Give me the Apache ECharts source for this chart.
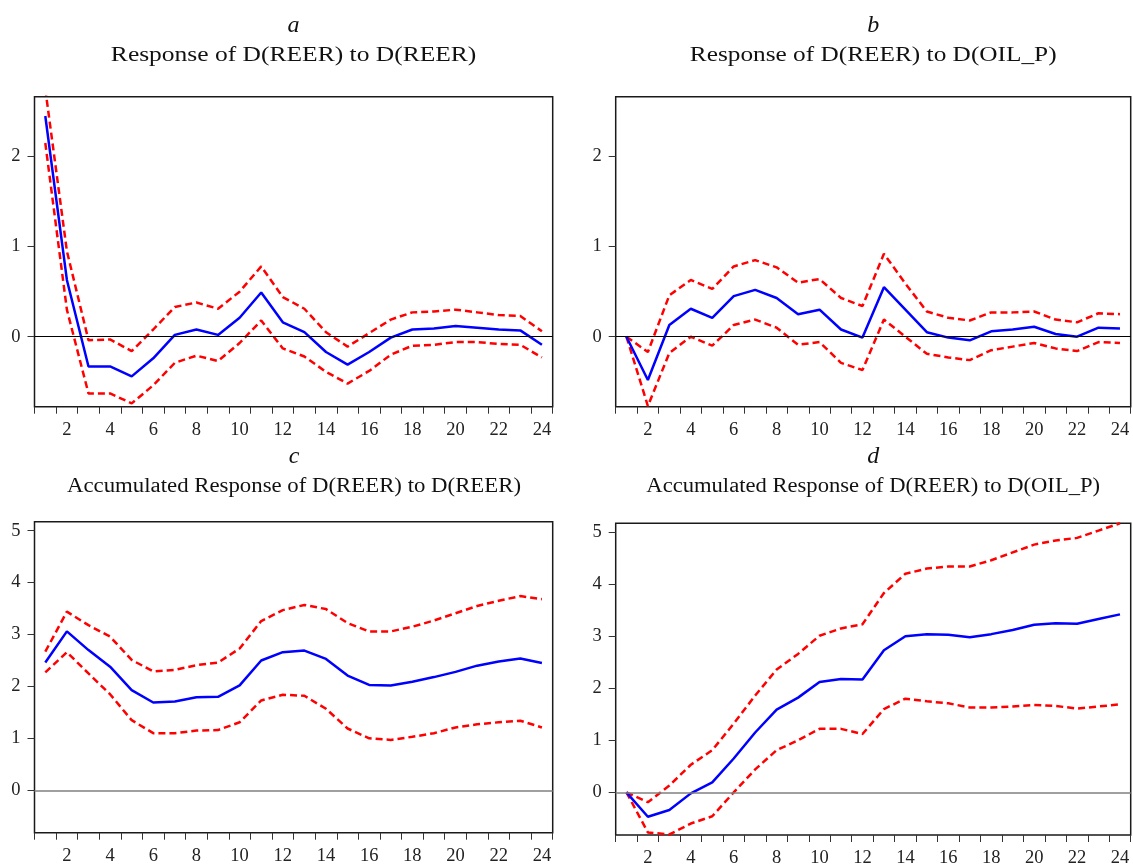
<!DOCTYPE html>
<html>
<head>
<meta charset="utf-8">
<title>Impulse responses of D(REER)</title>
<script src="https://cdn.jsdelivr.net/npm/echarts@6/dist/echarts.min.js"></script>
<style>
  html, body { margin: 0; padding: 0; background: #fff; }
  #chart { width: 1133px; height: 868px; }
</style>
</head>
<body>
<div id="chart"></div>
<script>
// Forecast horizon (periods)
const periods = ['1','2','3','4','5','6','7','8','9','10','11','12',
                 '13','14','15','16','17','18','19','20','21','22','23','24'];

// a: Response of D(REER) to D(REER), with ±2 S.E. bands
const reerToReer      = [2.45, 0.63, -0.33, -0.33, -0.44, -0.24, 0.02, 0.08, 0.02, 0.21, 0.49, 0.16,
                         0.05, -0.17, -0.31, -0.17, -0.01, 0.08, 0.09, 0.12, 0.10, 0.08, 0.07, -0.09];
const reerToReerUpper = [2.75, 0.95, -0.04, -0.03, -0.16, 0.08, 0.33, 0.38, 0.31, 0.50, 0.78, 0.44,
                         0.31, 0.05, -0.11, 0.04, 0.19, 0.27, 0.28, 0.30, 0.27, 0.24, 0.23, 0.06];
const reerToReerLower = [2.15, 0.30, -0.63, -0.63, -0.74, -0.54, -0.29, -0.21, -0.27, -0.07, 0.18, -0.13,
                         -0.22, -0.39, -0.52, -0.38, -0.20, -0.10, -0.09, -0.06, -0.06, -0.08, -0.09, -0.23];

// b: Response of D(REER) to D(OIL_P)
const reerToOil      = [0.00, -0.48, 0.13, 0.31, 0.21, 0.45, 0.52, 0.43, 0.25, 0.30, 0.08, -0.01,
                        0.55, 0.30, 0.05, -0.01, -0.04, 0.06, 0.08, 0.11, 0.03, 0.00, 0.10, 0.09];
const reerToOilUpper = [0.00, -0.17, 0.46, 0.63, 0.53, 0.78, 0.85, 0.77, 0.60, 0.64, 0.43, 0.34,
                        0.92, 0.59, 0.28, 0.21, 0.18, 0.27, 0.27, 0.28, 0.19, 0.16, 0.26, 0.25];
const reerToOilLower = [0.00, -0.77, -0.18, 0.00, -0.10, 0.13, 0.19, 0.10, -0.09, -0.06, -0.29, -0.37,
                        0.19, 0.00, -0.19, -0.23, -0.26, -0.15, -0.11, -0.07, -0.13, -0.16, -0.06, -0.07];

// c: Accumulated response of D(REER) to D(REER)
const accReerToReer      = [2.46, 3.06, 2.70, 2.38, 1.93, 1.69, 1.71, 1.79, 1.80, 2.02, 2.50, 2.66,
                            2.69, 2.53, 2.21, 2.03, 2.02, 2.09, 2.18, 2.28, 2.40, 2.48, 2.54, 2.45];
const accReerToReerUpper = [2.67, 3.44, 3.18, 2.96, 2.51, 2.29, 2.32, 2.41, 2.46, 2.73, 3.26, 3.47,
                            3.57, 3.49, 3.22, 3.06, 3.06, 3.15, 3.27, 3.41, 3.55, 3.65, 3.74, 3.68];
const accReerToReerLower = [2.27, 2.66, 2.25, 1.85, 1.35, 1.10, 1.10, 1.15, 1.16, 1.31, 1.73, 1.84,
                            1.82, 1.57, 1.19, 1.00, 0.97, 1.03, 1.10, 1.21, 1.27, 1.31, 1.34, 1.21];

// d: Accumulated response of D(REER) to D(OIL_P)
const accReerToOil      = [0.00, -0.47, -0.34, -0.02, 0.19, 0.65, 1.15, 1.59, 1.82, 2.12, 2.18, 2.17,
                           2.73, 3.00, 3.04, 3.03, 2.98, 3.04, 3.12, 3.22, 3.25, 3.24, 3.33, 3.42];
const accReerToOilUpper = [0.00, -0.19, 0.13, 0.53, 0.81, 1.32, 1.86, 2.36, 2.66, 3.01, 3.15, 3.23,
                           3.83, 4.20, 4.30, 4.34, 4.34, 4.46, 4.61, 4.76, 4.84, 4.89, 5.03, 5.17];
const accReerToOilLower = [0.00, -0.77, -0.81, -0.60, -0.46, 0.00, 0.44, 0.81, 1.00, 1.22, 1.22, 1.12,
                           1.60, 1.80, 1.75, 1.71, 1.63, 1.63, 1.65, 1.68, 1.66, 1.61, 1.65, 1.69];

// Tick values on the response axes
const responseTicks = [0, 1, 2];
const accumulatedTicks = [0, 1, 2, 3, 4, 5];

// Panel captions
const panelLetters = ['a', 'b', 'c', 'd'];
const panelTitles = [
  'Response of D(REER) to D(REER)',
  'Response of D(REER) to D(OIL_P)',
  'Accumulated Response of D(REER) to D(REER)',
  'Accumulated Response of D(REER) to D(OIL_P)'
];

const SERIF = '"Liberation Serif", "Times New Roman", serif';

// Panel geometry (px)
const panels = [
  { grid: { left: 34.5, top: 96.7, width: 518.2, height: 310 }, yMin: -0.777, yMax: 2.664, ticks: responseTicks,
    resp: reerToReer, upper: reerToReerUpper, lower: reerToReerLower, zeroColor: '#000', zeroWidth: 1,
    cx: 293.6, letterY: 26, titleY: 56, titleScale: 1.275 },
  { grid: { left: 615.7, top: 96.7, width: 515, height: 310 }, yMin: -0.777, yMax: 2.664, ticks: responseTicks,
    resp: reerToOil, upper: reerToOilUpper, lower: reerToOilLower, zeroColor: '#000', zeroWidth: 1,
    cx: 873.2, letterY: 26, titleY: 56, titleScale: 1.265 },
  { grid: { left: 34.5, top: 521.7, width: 518.2, height: 311 }, yMin: -0.817, yMax: 5.173, ticks: accumulatedTicks,
    resp: accReerToReer, upper: accReerToReerUpper, lower: accReerToReerLower, zeroColor: '#808080', zeroWidth: 1.5,
    cx: 294, letterY: 457, titleY: 486.5, titleScale: 1.14 },
  { grid: { left: 615.7, top: 523.3, width: 515, height: 318.7 }, yMin: -0.82, yMax: 5.17, ticks: accumulatedTicks,
    resp: accReerToOil, upper: accReerToOilUpper, lower: accReerToOilLower, zeroColor: '#808080', zeroWidth: 1.5,
    cx: 873.2, letterY: 457, titleY: 486.5, titleScale: 1.13 }
];

const grids = [], xAxes = [], yAxes = [], series = [], graphics = [];

panels.forEach((p, i) => {
  grids.push(Object.assign({ show: true, borderColor: '#1a1a1a', borderWidth: 1.5, backgroundColor: '#fff' }, p.grid));

  xAxes.push({
    gridIndex: i,
    type: 'category',
    data: periods,
    boundaryGap: true,
    axisLine: { show: false, onZero: false },
    axisTick: { show: true, interval: 0, length: 7, lineStyle: { color: '#333', width: 1 } },
    axisLabel: {
      interval: (idx) => idx % 2 === 1,
      margin: 14,
      fontFamily: SERIF,
      fontSize: 18.5,
      color: '#222'
    },
    splitLine: { show: false }
  });

  yAxes.push({
    gridIndex: i,
    type: 'value',
    min: p.yMin,
    max: p.yMax,
    axisLine: { show: false, onZero: false },
    axisTick: { show: true, customValues: p.ticks, length: 7, lineStyle: { color: '#333', width: 1 } },
    axisLabel: { customValues: p.ticks, margin: 14, fontFamily: SERIF, fontSize: 18.5, color: '#222' },
    splitLine: { show: false }
  });

  const dashed = { color: '#ff0000', width: 2.5, type: [7, 4] };

  series.push({
    type: 'line', xAxisIndex: i, yAxisIndex: i,
    data: p.lower, showSymbol: false, symbol: 'none',
    lineStyle: dashed, itemStyle: { color: '#ff0000' }, z: 2,
    markLine: {
      silent: true, symbol: 'none', animation: false,
      label: { show: false },
      lineStyle: { color: p.zeroColor, width: p.zeroWidth, type: 'solid' },
      data: [{ yAxis: 0 }]
    }
  });
  series.push({
    type: 'line', xAxisIndex: i, yAxisIndex: i,
    data: p.upper, showSymbol: false, symbol: 'none',
    lineStyle: dashed, itemStyle: { color: '#ff0000' }, z: 3
  });
  series.push({
    type: 'line', xAxisIndex: i, yAxisIndex: i,
    data: p.resp, showSymbol: false, symbol: 'none',
    lineStyle: { color: '#0000ff', width: 2.5 }, itemStyle: { color: '#0000ff' }, z: 4
  });

  graphics.push({
    type: 'text', x: p.cx, y: p.letterY,
    style: { text: panelLetters[i], fontFamily: SERIF, fontStyle: 'italic', fontSize: 24,
             fill: '#111', align: 'center', verticalAlign: 'middle' }
  });
  graphics.push({
    type: 'text', x: p.cx, y: p.titleY, scaleX: p.titleScale,
    style: { text: panelTitles[i], fontFamily: SERIF, fontSize: 20,
             fill: '#111', align: 'center', verticalAlign: 'middle' }
  });
});

const chart = echarts.init(document.getElementById('chart'), null, { renderer: 'canvas' });
chart.setOption({
  animation: false,
  backgroundColor: '#fff',
  grid: grids,
  xAxis: xAxes,
  yAxis: yAxes,
  series: series,
  graphic: graphics
});
</script>
</body>
</html>
